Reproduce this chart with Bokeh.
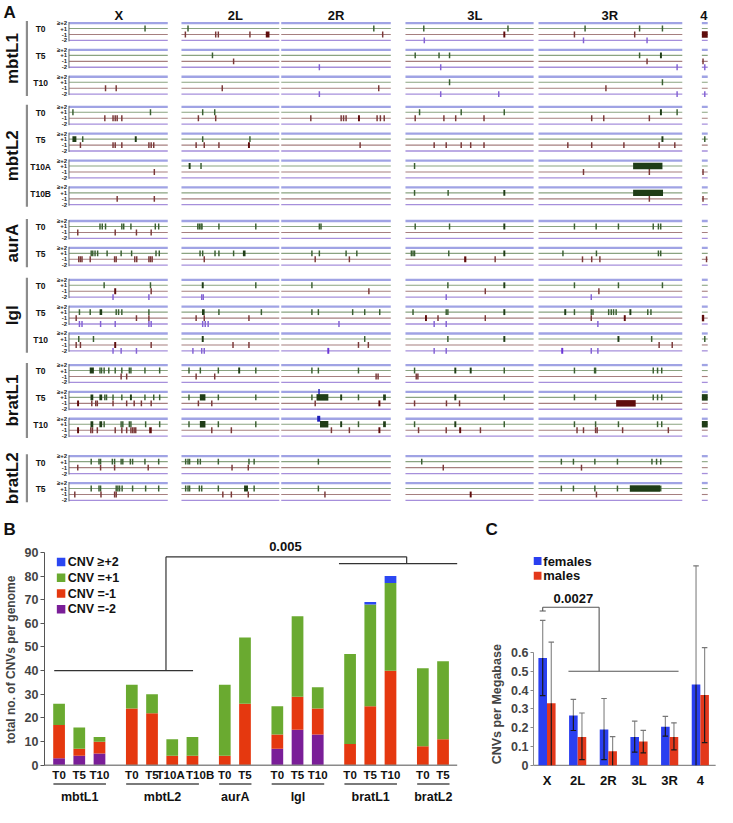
import math
from bokeh.plotting import figure
from bokeh.layouts import column, row
from bokeh.models import Range1d, FixedTicker
from bokeh.core.properties import value
from bokeh.embed import file_html
from bokeh.resources import INLINE

FONT = "Liberation Sans"

# ---------------- Panel A data ----------------
CHROMS = ["X", "2L", "2R", "3L", "3R", "4"]
LINES = ["mbtL1", "mbtL2", "aurA", "lgl", "bratL1", "bratL2"]
TIMEPOINTS = [["T0", "T5", "T10"], ["T0", "T5", "T10A", "T10B"], ["T0", "T5"],
              ["T0", "T5", "T10"], ["T0", "T5", "T10"], ["T0", "T5"]]
LEVEL_LABELS = ["\u2265+2", "+1", "-1", "-2"]

# CNV calls, relative position along each chromosome arm (0-1)
GAIN2 = {"bratL1 T5": {"2R": [0.345]}}
GAIN1 = {
    "mbtL1 T0": {"X": [0.77], "2L": [0.067], "2R": [0.845], "3L": [0.143, 0.80], "3R": [0.324, 0.703, 0.862]},
    "mbtL1 T5": {"2L": [0.317], "3L": [0.076, 0.262, 0.344], "3R": [0.703]},
    "mbtL1 T10": {"3L": [0.344], "3R": [0.862]},
    "mbtL2 T0": {"X": [0.04, 0.825], "2L": [0.217, 0.34], "3L": [0.11, 0.435, 0.771], "3R": [0.964]},
    "mbtL2 T5": {"X": [0.139], "2L": [0.217, 0.70], "4": [0.5]},
    "mbtL2 T10A": {"2L": [0.2], "3L": [0.071]},
    "mbtL2 T10B": {"3L": [0.071, 0.333]},
    "aurA T0": {"X": [0.314, 0.337, 0.37, 0.535, 0.554, 0.627, 0.874, 0.908], "2L": [0.167, 0.183, 0.2, 0.21, 0.383, 0.76],
                "2R": [0.348, 0.363], "3L": [0.076, 0.344], "3R": [0.25, 0.401, 0.556, 0.798, 0.834, 0.85]},
    "aurA T5": {"X": [0.225, 0.241, 0.264, 0.29, 0.386, 0.528, 0.634, 0.881, 0.914], "2L": [0.19, 0.217, 0.343, 0.383, 0.533],
                "2R": [0.28, 0.348, 0.592, 0.69], "3L": [0.046, 0.059, 0.071, 0.338], "3R": [0.17, 0.403, 0.834, 0.85]},
    "lgl T0": {"X": [0.356, 0.825], "2L": [0.76], "2R": [0.28], "3L": [0.331], "3R": [0.25, 0.556, 0.862]},
    "lgl T5": {"X": [0.106, 0.215, 0.478, 0.502, 0.535, 0.809], "2L": [0.383, 0.817], "2R": [0.28, 0.339, 0.652, 0.762, 0.899],
               "3L": [0.059, 0.318, 0.331], "3R": [0.25, 0.367, 0.379, 0.488, 0.506, 0.522, 0.54, 0.76, 0.782]},
    "lgl T10": {"X": [0.099, 0.248], "2R": [0.762], "3L": [0.331], "3R": [0.787], "4": [0.5]},
    "bratL1 T0": {"X": [0.314, 0.33, 0.356, 0.403, 0.468, 0.535, 0.611, 0.627, 0.769, 0.918], "2L": [0.077, 0.193, 0.377, 0.76],
                  "2R": [0.28, 0.339, 0.705], "3L": [0.071, 0.771], "3R": [0.25, 0.39, 0.397, 0.798, 0.828, 0.857]},
    "bratL1 T5": {"X": [0.363, 0.38, 0.446, 0.535, 0.769, 0.858, 0.918], "2L": [0.077, 0.377, 0.76], "2R": [0.28, 0.705],
                  "3L": [0.771], "3R": [0.25, 0.397, 0.798, 0.828, 0.857]},
    "bratL1 T10": {"X": [0.356, 0.528, 0.545, 0.611, 0.627, 0.776, 0.918], "2L": [0.077, 0.377, 0.76], "2R": [0.705],
                   "3L": [0.071, 0.771], "3R": [0.25, 0.397, 0.556, 0.828, 0.857]},
    "bratL2 T0": {"X": [0.225, 0.304, 0.32, 0.439, 0.462, 0.528, 0.545, 0.621, 0.644, 0.769, 0.908],
                  "2L": [0.043, 0.067, 0.083, 0.167, 0.193, 0.377, 0.69, 0.743], "2R": [0.339], "3L": [0.127],
                  "3R": [0.159, 0.243, 0.392, 0.549, 0.789, 0.821, 0.85]},
    "bratL2 T5": {"X": [0.225, 0.304, 0.32, 0.478, 0.495, 0.512, 0.538, 0.644, 0.776, 0.908],
                  "2L": [0.043, 0.067, 0.083, 0.183, 0.207, 0.377, 0.743], "2R": [0.339], "3R": [0.159, 0.243, 0.392, 0.549, 0.85]},
}
LOSS1 = {
    "mbtL1 T0": {"2L": [0.04, 0.35, 0.377, 0.70], "2R": [0.926], "3R": [0.25, 0.669]},
    "mbtL1 T5": {"2L": [0.533], "3R": [0.755], "4": [0.2]},
    "mbtL1 T10": {"X": [0.37, 0.478], "2L": [0.417], "2R": [0.89], "3R": [0.469]},
    "mbtL2 T0": {"X": [0.363, 0.446, 0.468, 0.488, 0.535], "2L": [0.173, 0.35],
                 "2R": [0.27, 0.547, 0.569, 0.592, 0.875, 0.905, 0.94], "3L": [0.076, 0.3, 0.392, 0.613], "3R": [0.37, 0.454, 0.771]},
    "mbtL2 T5": {"X": [0.116, 0.446, 0.468, 0.535, 0.809, 0.832, 0.858], "2L": [0.15, 0.233, 0.383], "2R": [0.72],
                 "3L": [0.224, 0.318, 0.435, 0.509, 0.613], "3R": [0.204, 0.37, 0.594, 0.839, 0.948]},
    "mbtL2 T10A": {"X": [0.864], "3R": [0.313, 0.771], "4": [0.2]},
    "mbtL2 T10B": {"X": [0.488, 0.864], "3R": [0.771], "4": [0.2]},
    "aurA T0": {"X": [0.089, 0.468, 0.683, 0.832]},
    "aurA T5": {"X": [0.099, 0.116, 0.132, 0.215, 0.462, 0.478, 0.666, 0.686, 0.809, 0.825, 0.842], "2L": [0.233],
                "2R": [0.31, 0.622], "3L": [0.70], "3R": [0.306, 0.37, 0.427], "4": [0.8]},
    "lgl T0": {"X": [0.832], "2R": [0.80], "3L": [0.623], "3R": [0.42]},
    "lgl T5": {"X": [0.073, 0.683, 0.809], "2L": [0.15, 0.233, 0.69], "3L": [0.254, 0.623], "3R": [0.367]},
    "lgl T10": {"X": [0.073, 0.116, 0.832], "2L": [0.527, 0.69], "2R": [0.705, 0.795], "3R": [0.839, 0.93]},
    "bratL1 T0": {"X": [0.528, 0.584], "2L": [0.15, 0.34], "2R": [0.866, 0.884], "3L": [0.084, 0.097]},
    "bratL1 T5": {"X": [0.231, 0.271, 0.287, 0.446, 0.584, 0.66, 0.733, 0.832], "2L": [0.173, 0.31], "2R": [0.31],
                  "3L": [0.071, 0.32, 0.422]},
    "bratL1 T10": {"X": [0.221, 0.238, 0.287, 0.468, 0.535, 0.584, 0.627, 0.644, 0.66, 0.676], "2L": [0.31, 0.51],
                   "2R": [0.458, 0.622], "3L": [0.102, 0.318, 0.585], "3R": [0.268, 0.313, 0.397, 0.408, 0.585, 0.903]},
    "bratL2 T0": {"X": [0.089, 0.32, 0.462, 0.802], "2L": [0.517, 0.683], "3L": [0.295], "3R": [0.299]},
    "bratL2 T5": {"X": [0.059, 0.324, 0.462, 0.478], "2L": [0.423, 0.51, 0.683], "2R": [0.399], "3R": [0.403]},
}
LOSS2 = {
    "mbtL1 T0": {"3L": [0.147], "3R": [0.313, 0.755]},
    "mbtL1 T5": {"2R": [0.348], "3L": [0.275], "3R": [0.964], "4": [0.5]},
    "mbtL1 T10": {"2R": [0.348], "3L": [0.275, 0.728], "3R": [0.964], "4": [0.5]},
    "lgl T0": {"X": [0.446, 0.809], "2L": [0.207, 0.223], "3L": [0.318], "3R": [0.367]},
    "lgl T5": {"X": [0.106, 0.132, 0.32, 0.468, 0.809, 0.832], "2L": [0.217, 0.243, 0.273], "2R": [0.527],
               "3L": [0.224, 0.318], "3R": [0.413]},
    "lgl T10": {"X": [0.446, 0.528, 0.683], "2L": [0.117, 0.207, 0.233], "3L": [0.224, 0.318], "3R": [0.367, 0.413]},
}
# wider calls: (sample, chromosome, level index 0=>=+2 1=+1 2=-1 3=-2, start, end)
SEGMENTS = [
    ("mbtL1 T0", "2L", 2, 0.862, 0.9), ("mbtL1 T0", "3L", 2, 0.765, 0.778), ("mbtL1 T0", "4", 2, 0.0, 1.0),
    ("mbtL1 T5", "3R", 1, 0.845, 0.858),
    ("mbtL2 T0", "2R", 2, 0.703, 0.716), ("mbtL2 T0", "3R", 1, 0.845, 0.858),
    ("mbtL2 T5", "X", 1, 0.035, 0.075), ("mbtL2 T5", "X", 1, 0.67, 0.682), ("mbtL2 T5", "2L", 2, 0.684, 0.696),
    ("mbtL2 T5", "3R", 1, 0.856, 0.868),
    ("mbtL2 T10A", "2L", 1, 0.077, 0.09), ("mbtL2 T10A", "3R", 1, 0.658, 0.862),
    ("mbtL2 T10B", "3L", 1, 0.765, 0.778), ("mbtL2 T10B", "3R", 1, 0.658, 0.866),
    ("aurA T0", "3L", 1, 0.765, 0.778),
    ("aurA T5", "2L", 1, 0.628, 0.655), ("aurA T5", "3L", 1, 0.765, 0.778), ("aurA T5", "3L", 2, 0.458, 0.475),
    ("lgl T0", "X", 2, 0.462, 0.474), ("lgl T0", "2L", 1, 0.211, 0.224), ("lgl T0", "3L", 1, 0.765, 0.778),
    ("lgl T5", "X", 1, 0.31, 0.336), ("lgl T5", "2L", 1, 0.21, 0.237), ("lgl T5", "3L", 1, 0.765, 0.778),
    ("lgl T5", "3L", 2, 0.154, 0.166), ("lgl T5", "3R", 1, 0.18, 0.192), ("lgl T5", "3R", 1, 0.633, 0.645),
    ("lgl T5", "3R", 2, 0.594, 0.606), ("lgl T5", "4", 2, 0.0, 0.4),
    ("lgl T10", "X", 2, 0.462, 0.474), ("lgl T10", "2L", 1, 0.211, 0.224), ("lgl T10", "2R", 3, 0.422, 0.437),
    ("lgl T10", "3L", 1, 0.765, 0.778), ("lgl T10", "3R", 1, 0.55, 0.562), ("lgl T10", "3R", 3, 0.158, 0.172),
    ("bratL1 T0", "X", 1, 0.21, 0.252), ("bratL1 T0", "2L", 1, 0.584, 0.596), ("bratL1 T0", "3L", 1, 0.383, 0.395),
    ("bratL1 T0", "3L", 1, 0.503, 0.515),
    ("bratL1 T5", "X", 1, 0.218, 0.246), ("bratL1 T5", "X", 1, 0.308, 0.336), ("bratL1 T5", "X", 1, 0.621, 0.633),
    ("bratL1 T5", "X", 2, 0.086, 0.098), ("bratL1 T5", "2L", 1, 0.188, 0.245), ("bratL1 T5", "2R", 1, 0.322, 0.43),
    ("bratL1 T5", "2R", 1, 0.541, 0.553), ("bratL1 T5", "2R", 1, 0.93, 0.955), ("bratL1 T5", "2R", 2, 0.89, 0.902),
    ("bratL1 T5", "3L", 1, 0.383, 0.395), ("bratL1 T5", "3R", 2, 0.54, 0.676), ("bratL1 T5", "4", 1, 0.0, 1.0),
    ("bratL1 T10", "X", 1, 0.218, 0.246), ("bratL1 T10", "X", 1, 0.308, 0.336), ("bratL1 T10", "X", 2, 0.086, 0.098),
    ("bratL1 T10", "X", 2, 0.812, 0.838), ("bratL1 T10", "2L", 1, 0.188, 0.245), ("bratL1 T10", "2R", 0, 0.328, 0.356),
    ("bratL1 T10", "2R", 1, 0.354, 0.43), ("bratL1 T10", "2R", 1, 0.541, 0.553), ("bratL1 T10", "2R", 1, 0.93, 0.955),
    ("bratL1 T10", "2R", 2, 0.89, 0.902), ("bratL1 T10", "3L", 1, 0.383, 0.395), ("bratL1 T10", "3L", 2, 0.421, 0.433),
    ("bratL1 T10", "4", 1, 0.0, 1.0),
    ("bratL2 T5", "2L", 1, 0.64, 0.68), ("bratL2 T5", "3L", 2, 0.503, 0.515), ("bratL2 T5", "3R", 1, 0.635, 0.845),
]

# ---------------- Panel B data ----------------
B_LINES = ["mbtL1", "mbtL2", "aurA", "lgl", "bratL1", "bratL2"]
B_TIMEPOINTS = [["T0", "T5", "T10"], ["T0", "T5", "T10A", "T10B"], ["T0", "T5"],
                ["T0", "T5", "T10"], ["T0", "T5", "T10"], ["T0", "T5"]]
B_GAIN2 = [0, 0, 0, 0, 0, 0, 0, 0, 0, 0, 0, 0, 0, 1, 3, 0, 0]
B_GAIN1 = [9, 9, 2, 10, 8, 7, 8, 30, 28, 12, 34, 9, 38, 43, 37, 33, 33]
B_LOSS1 = [14, 3, 5, 24, 22, 4, 4, 4, 26, 6, 14, 11, 9, 25, 40, 8, 11]
B_LOSS2 = [3, 4, 5, 0, 0, 0, 0, 0, 0, 7, 15, 13, 0, 0, 0, 0, 0]
B_LEGEND = ["CNV \u2265+2", "CNV =+1", "CNV =-1", "CNV =-2"]
B_PVALUE = "0.005"

# ---------------- Panel C data ----------------
C_CHROMS = ["X", "2L", "2R", "3L", "3R", "4"]
C_FEMALE = [0.57, 0.265, 0.19, 0.15, 0.205, 0.43]
C_FEMALE_LO = [0.37, 0.185, 0.03, 0.07, 0.155, 0.0]
C_FEMALE_HI = [0.77, 0.35, 0.355, 0.235, 0.26, 1.06]
C_MALE = [0.33, 0.15, 0.075, 0.127, 0.15, 0.373]
C_MALE_LO = [0.0, 0.03, 0.0, 0.066, 0.082, 0.121]
C_MALE_HI = [0.655, 0.278, 0.153, 0.186, 0.226, 0.625]
C_LEGEND = ["females", "males"]
C_PVALUE = "0.0027"

# ================= styling / layout =================
LEVEL_LINE_COL = ["#a0a3e4", "#8aa381", "#a67f7f", "#a68fdb"]
LEVEL_LINE_W = [2.3, 1.1, 1.1, 1.3]
MARK_COL = ["#2424b4", "#3a5f31", "#7a3838", "#8462d4"]
SEG_COL = ["#1d1db8", "#1f3d17", "#5e0c0c", "#6b35d6"]
CX0 = {"X": 70, "2L": 185, "2R": 287, "3L": 414, "3R": 550, "4": 717}
CW = {"X": 101, "2L": 100, "2R": 112, "3L": 131, "3R": 147, "4": 6}
HEADER_X = {"X": 121, "2L": 240, "2R": 343, "3L": 485, "3R": 623, "4": 719}
GROUP_TOP = [23, 108.5, 225, 285, 372, 465]
ROW_STEP = 27.4
LEVEL_OFF = [0, 5.6, 11.7, 17.7]
A_BOTTOM = 549          # reference-pixel row where the lower panels begin

# ---------------- Panel A ----------------
pA = figure(width=717, height=538, x_range=Range1d(0, 733), y_range=Range1d(-A_BOTTOM, 0),
            output_backend="svg", toolbar_location=None, min_border=0,
            x_axis_location=None, y_axis_location=None)
pA.grid.visible = False
pA.outline_line_color = None

row_top = {}
for gi, (g, tps) in enumerate(zip(LINES, TIMEPOINTS)):
    for ti, t in enumerate(tps):
        row_top[f"{g} {t}"] = GROUP_TOP[gi] + ti * ROW_STEP

for lev in range(4):
    x0s, x1s, ys = [], [], []
    for key, top in row_top.items():
        for ch in CHROMS:
            x0s.append(CX0[ch]); x1s.append(CX0[ch] + CW[ch]); ys.append(-(top + LEVEL_OFF[lev]))
    pA.segment(x0=x0s, y0=ys, x1=x1s, y1=ys, line_color=LEVEL_LINE_COL[lev], line_width=LEVEL_LINE_W[lev])

vx, vy0, vy1 = [], [], []
for key, top in row_top.items():
    vx.append(CX0["X"]); vy0.append(-(top - 1)); vy1.append(-(top + LEVEL_OFF[3] + 1))
pA.segment(x0=vx, y0=vy0, x1=vx, y1=vy1, line_color="#666666", line_width=1)

ql, qr, qt, qb, qc = [], [], [], [], []
for lev, calls in enumerate([GAIN2, GAIN1, LOSS1, LOSS2]):
    for key, per_chrom in calls.items():
        for ch, poss in per_chrom.items():
            for pos in poss:
                x = CX0[ch] + pos * CW[ch]
                y = -(row_top[key] + LEVEL_OFF[lev])
                ql.append(x - 0.75); qr.append(x + 0.75); qt.append(y + 3.0); qb.append(y - 3.0); qc.append(MARK_COL[lev])
for key, ch, lev, s, e in SEGMENTS:
    x0 = CX0[ch] + s * CW[ch]
    x1 = CX0[ch] + e * CW[ch]
    if x1 - x0 < 2.0:
        m = (x0 + x1) / 2
        x0, x1 = m - 1.0, m + 1.0
    y = -(row_top[key] + LEVEL_OFF[lev])
    h = 3.3 if (e - s) > 0.05 else 3.0
    ql.append(x0); qr.append(x1); qt.append(y + h); qb.append(y - h); qc.append(SEG_COL[lev])
pA.quad(left=ql, right=qr, top=qt, bottom=qb, fill_color=qc, line_color=None)

sx, sy, st = [], [], []
lx, ly, lt = [], [], []
for key, top in row_top.items():
    sx.append(41); sy.append(-(top + 6.5)); st.append(key.split(" ")[1])
    for lev in range(4):
        lx.append(68); ly.append(-(top + LEVEL_OFF[lev])); lt.append(LEVEL_LABELS[lev])
pA.text(x=sx, y=sy, text=st, text_font=value(FONT), text_font_style="bold", text_font_size="8.5px",
        text_align="center", text_baseline="middle", text_color="#111111")
pA.text(x=lx, y=ly, text=lt, text_font=value(FONT), text_font_style="bold", text_font_size="6px",
        text_align="right", text_baseline="middle", text_color="#222222")

gbx, gby0, gby1, gnx, gny, gnt = [], [], [], [], [], []
for gi, (g, tps) in enumerate(zip(LINES, TIMEPOINTS)):
    top = GROUP_TOP[gi] - 2
    bot = GROUP_TOP[gi] + (len(tps) - 1) * ROW_STEP + LEVEL_OFF[3] + 2
    gbx.append(27); gby0.append(-top); gby1.append(-bot)
    gnx.append(12); gny.append(-(top + bot) / 2); gnt.append(g)
pA.segment(x0=gbx, y0=gby0, x1=gbx, y1=gby1, line_color="#8c8c8c", line_width=2.2)
pA.text(x=gnx, y=gny, text=gnt, angle=math.pi / 2, text_font=value(FONT), text_font_style="bold",
        text_font_size="17px", text_align="center", text_baseline="middle", text_color="#111111")

pA.text(x=[HEADER_X[c] for c in CHROMS], y=[-15] * len(CHROMS), text=CHROMS, text_font=value(FONT),
        text_font_style="bold", text_font_size="13px", text_align="center", text_baseline="middle",
        text_color="#111111")
pA.text(x=[3, 3, 502], y=[-12, -540, -540], text=["A", "B", "C"], text_font=value(FONT), text_font_style="bold",
        text_font_size="17px", text_align=["left", "left", "center"], text_baseline="middle", text_color="#111111")

# ---------------- Panel B ----------------
pB = figure(width=487, height=269, x_range=Range1d(-0.721, 21.2), y_range=Range1d(-17.84, 95.85),
            output_backend="svg", toolbar_location=None, min_border_left=41, min_border_right=0,
            min_border_top=0, min_border_bottom=0, x_axis_location=None)
pB.grid.visible = False
pB.outline_line_color = None

bx, blab, gidx = [], [], []
i = 0
for gi, tps in enumerate(B_TIMEPOINTS):
    for t in tps:
        bx.append(i + gi * 0.6); blab.append(t); gidx.append(gi)
        i += 1

B_COLORS = ["#2b47f2", "#6aaa30", "#e5380f", "#7a1e98"]
bottom = [0] * len(bx)
for vals, col in zip([B_LOSS2, B_LOSS1, B_GAIN1, B_GAIN2], [B_COLORS[3], B_COLORS[2], B_COLORS[1], B_COLORS[0]]):
    top = [b + v for b, v in zip(bottom, vals)]
    pB.vbar(x=bx, bottom=bottom, top=top, width=0.58, fill_color=col, line_color=None)
    bottom = top

pB.segment(x0=[-0.721], y0=[0], x1=[19.7], y1=[0], line_color="#8a8a8a", line_width=1.6)
nudge = {"T10A": -0.08, "T10B": 0.38}
lab_x = [x + (nudge.get(t, 0) if g == 1 else 0) for x, t, g in zip(bx, blab, gidx)]
pB.text(x=lab_x, y=[-4.1] * len(bx), text=blab, text_font=value(FONT), text_font_style="bold", text_font_size="11.5px",
        text_align="center", text_baseline="middle", text_color="#111111")
ux0, ux1, gx = [], [], []
for gi in range(len(B_LINES)):
    xs = [x for x, g in zip(bx, gidx) if g == gi]
    ux0.append(xs[0] - 0.28); ux1.append(xs[-1] + 0.32); gx.append((xs[0] + xs[-1]) / 2 + 0.02)
pB.segment(x0=ux0, y0=[-7.9] * 6, x1=ux1, y1=[-7.9] * 6, line_color="#7a7a7a", line_width=2.2)
pB.text(x=gx, y=[-13.3] * 6, text=B_LINES, text_font=value(FONT), text_font_style="bold", text_font_size="12.5px",
        text_align="center", text_baseline="middle", text_color="#111111")
pB.segment(x0=[-0.24, 5.29, 5.29, 17.2, 13.85], y0=[40, 40, 88.1, 88.1, 85.2],
           x1=[6.63, 5.29, 17.2, 17.2, 19.7], y1=[40, 88.1, 88.1, 85.2, 85.2], line_color="#333333", line_width=1.2)
pB.text(x=[11.2], y=[92.6], text=[B_PVALUE], text_font=value(FONT), text_font_style="bold", text_font_size="13px",
        text_align="center", text_baseline="middle", text_color="#111111")
ly_vals = [85.9, 79.25, 72.6, 66.0]
pB.scatter(x=[0.1] * 4, y=ly_vals, marker="square", size=8.5, fill_color=B_COLORS, line_color=None)
pB.text(x=[0.43] * 4, y=ly_vals, text=B_LEGEND, text_font=value(FONT), text_font_style="bold",
        text_font_size="12.5px", text_align="left", text_baseline="middle", text_color="#111111")

pB.yaxis.ticker = FixedTicker(ticks=list(range(0, 91, 10)))
pB.yaxis.bounds = (0, 90)
pB.yaxis.axis_label = "\u00a0" * 8 + "total no. of CNVs per genome"
pB.yaxis.axis_label_text_font = FONT
pB.yaxis.axis_label_text_font_style = "bold"
pB.yaxis.axis_label_text_font_size = "12px"
pB.yaxis.axis_label_standoff = 4
pB.yaxis.major_label_text_font = FONT
pB.yaxis.major_label_text_font_style = "bold"
pB.yaxis.major_label_text_font_size = "12.5px"
pB.yaxis.major_label_standoff = 2
pB.yaxis.minor_tick_line_color = None
pB.yaxis.major_tick_in = 0
pB.yaxis.major_tick_out = 4
pB.yaxis.axis_line_color = "#555555"
pB.yaxis.major_tick_line_color = "#555555"

# ---------------- Panel C ----------------
pC = figure(width=230, height=269, x_range=Range1d(-0.44, 5.56), y_range=Range1d(-0.224, 1.205),
            output_backend="svg", toolbar_location=None, min_border_left=43, min_border_right=0,
            min_border_top=0, min_border_bottom=0, x_axis_location=None)
pC.grid.visible = False
pC.outline_line_color = None
cx = list(range(len(C_CHROMS)))
fx = [x - 0.14 for x in cx]
mx = [x + 0.14 for x in cx]
C_BLUE, C_RED = "#2a3ff0", "#e3381b"
pC.segment(x0=[-0.44], y0=[0], x1=[5.5], y1=[0], line_color="#8a8a8a", line_width=1.4)
pC.vbar(x=fx, top=C_FEMALE, width=0.28, fill_color=C_BLUE, line_color=None)
pC.vbar(x=mx, top=C_MALE, width=0.28, fill_color=C_RED, line_color=None)
for xs, mean, lo, hi in [(fx, C_FEMALE, C_FEMALE_LO, C_FEMALE_HI), (mx, C_MALE, C_MALE_LO, C_MALE_HI)]:
    pC.segment(x0=xs, y0=mean, x1=xs, y1=hi, line_color="#8c8c8c", line_width=1.2)
    pC.segment(x0=[x - 0.09 for x in xs], y0=hi, x1=[x + 0.09 for x in xs], y1=hi, line_color="#777777", line_width=1.2)
    pC.segment(x0=xs, y0=lo, x1=xs, y1=mean, line_color="#1a1a1a", line_width=1.2)
    cl = [(x, l) for x, l in zip(xs, lo) if l > 0.005]
    pC.segment(x0=[x - 0.09 for x, l in cl], y0=[l for x, l in cl], x1=[x + 0.09 for x, l in cl],
               y1=[l for x, l in cl], line_color="#1a1a1a", line_width=1.2)
pC.segment(x0=[-0.14, 1.70, 0.70, -0.14, -0.24], y0=[0.84, 0.84, 0.5, 0.84, 0.82],
           x1=[1.70, 1.70, 4.29, -0.14, -0.04], y1=[0.84, 0.5, 0.5, 0.82, 0.82], line_color="#555555", line_width=1.1)
pC.text(x=[0.86], y=[0.885], text=[C_PVALUE], text_font=value(FONT), text_font_style="bold", text_font_size="13px",
        text_align="center", text_baseline="middle", text_color="#111111")
leg_y = [1.085, 1.007]
pC.scatter(x=[-0.31, -0.31], y=leg_y, marker="square", size=8, fill_color=[C_BLUE, C_RED], line_color=None)
pC.text(x=[-0.12, -0.12], y=leg_y, text=C_LEGEND, text_font=value(FONT), text_font_style="bold",
        text_font_size="13px", text_align="left", text_baseline="middle", text_color="#111111")
pC.text(x=cx, y=[-0.078] * len(cx), text=C_CHROMS, text_font=value(FONT), text_font_style="bold",
        text_font_size="13px", text_align="center", text_baseline="middle", text_color="#111111")

pC.yaxis.ticker = FixedTicker(ticks=[0, 0.1, 0.2, 0.3, 0.4, 0.5, 0.6])
pC.yaxis.major_label_overrides = {0: "0", 0.1: "0.1", 0.2: "0.2", 0.3: "0.3", 0.4: "0.4", 0.5: "0.5", 0.6: "0.6"}
pC.yaxis.bounds = (0, 0.6)
pC.yaxis.axis_label = "CNVs per Megabase" + "\u00a0" * 18
pC.yaxis.axis_label_text_font = FONT
pC.yaxis.axis_label_text_font_style = "bold"
pC.yaxis.axis_label_text_font_size = "12.5px"
pC.yaxis.axis_label_standoff = 4
pC.yaxis.major_label_text_font = FONT
pC.yaxis.major_label_text_font_style = "bold"
pC.yaxis.major_label_text_font_size = "12.5px"
pC.yaxis.major_label_standoff = 2
pC.yaxis.minor_tick_line_color = None
pC.yaxis.major_tick_in = 0
pC.yaxis.major_tick_out = 3
pC.yaxis.axis_line_color = "#8a8a8a"
pC.yaxis.major_tick_line_color = "#8a8a8a"

layout = column(pA, row(pB, pC))
open("out.html", "w").write(file_html(layout, INLINE))
